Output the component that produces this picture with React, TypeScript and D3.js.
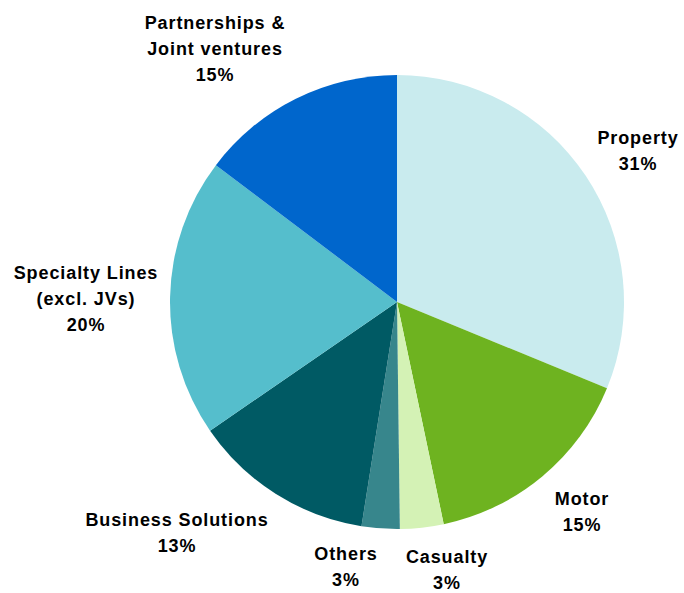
import React from "react";
import * as d3 from "d3";

const categories = ["Property", "Motor", "Casualty", "Others", "Business Solutions", "Specialty Lines (excl. JVs)", "Partnerships & Joint ventures"];
const values = [31.2, 15.5, 3.1, 2.7, 12.9, 19.9, 14.7];
const colors = ["#C9EBEE", "#6EB320", "#D4F2B5", "#37868C", "#005A64", "#55BECC", "#0066CC"];
const labelLines = [
  ["Property", "31%"],
  ["Motor", "15%"],
  ["Casualty", "3%"],
  ["Others", "3%"],
  ["Business Solutions", "13%"],
  ["Specialty Lines", "(excl. JVs)", "20%"],
  ["Partnerships &", "Joint ventures", "15%"],
];
// label anchor positions (center x, first line baseline y)
const labelPos: [number, number][] = [
  [638, 144],
  [582, 505],
  [447, 563],
  [346, 560],
  [177, 526],
  [86, 279],
  [215, 29],
];

export default function App() {
  const W = 684, H = 593;
  const cx = 397, cy = 302, r = 227;
  const pie = d3.pie<number>().sort(null).value((d) => d);
  const arcs = pie(values);
  const arc = d3.arc<d3.PieArcDatum<number>>().innerRadius(0).outerRadius(r);
  return (
    <svg width={W} height={H} style={{ position: "absolute", left: 0, top: 0 }}>
      <rect width={W} height={H} fill="#fff" />
      <g transform={`translate(${cx},${cy})`}>
        {arcs.map((a, i) => (
          <path key={categories[i]} d={arc(a) || ""} fill={colors[i]} />
        ))}
      </g>
      {labelLines.map((lines, i) => (
        <text
          key={i}
          x={labelPos[i][0]}
          y={labelPos[i][1]}
          textAnchor="middle"
          fontFamily="'Liberation Sans', Arial, sans-serif"
          fontWeight="bold"
          fontSize={18}
          letterSpacing={0.9}
          fill="#000"
        >
          {lines.map((l, j) => (
            <tspan key={j} x={labelPos[i][0]} dy={j === 0 ? 0 : 26}>
              {l}
            </tspan>
          ))}
        </text>
      ))}
    </svg>
  );
}
